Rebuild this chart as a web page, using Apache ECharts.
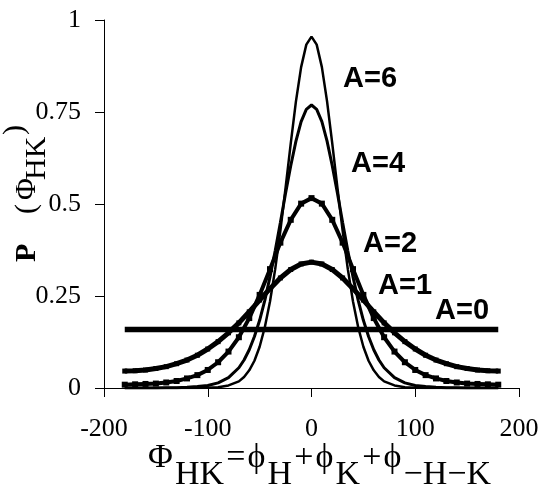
<!DOCTYPE html>
<html><head><meta charset="utf-8">
<script src="https://cdn.jsdelivr.net/npm/echarts@6/dist/echarts.min.js"></script>
<style>html,body{margin:0;padding:0;background:#fff}#c{width:556px;height:500px}</style>
</head><body><div id="c"></div>
<script>
// ---- data ----
const angles10 = [-180,-170,-160,-150,-140,-130,-120,-110,-100,-90,-80,-70,-60,-50,-40,-30,-20,-10,0,10,20,30,40,50,60,70,80,90,100,110,120,130,140,150,160,170,180];
const anglesFine = [-180,-170,-160,-150,-140,-130,-120,-110,-100,-90,-80,-70,-65,-60,-55,-50,-45,-40,-35,-30,-25,-20,-15,-10,-5,0,5,10,15,20,25,30,35,40,45,50,55,60,65,70,80,90,100,110,120,130,140,150,160,170,180];
const a0Angles = [-180, 180];
const a0Values = [0.159, 0.159];
const a1Values = [0.046,0.047,0.049,0.053,0.058,0.066,0.076,0.089,0.106,0.126,0.150,0.177,0.207,0.239,0.270,0.299,0.322,0.337,0.342,0.337,0.322,0.299,0.270,0.239,0.207,0.177,0.150,0.126,0.106,0.089,0.076,0.066,0.058,0.053,0.049,0.047,0.046];
const a2Values = [0.009,0.010,0.011,0.012,0.015,0.019,0.026,0.035,0.049,0.070,0.099,0.138,0.190,0.253,0.323,0.395,0.457,0.501,0.516,0.501,0.457,0.395,0.323,0.253,0.190,0.138,0.099,0.070,0.049,0.035,0.026,0.019,0.015,0.012,0.011,0.010,0.009];
const a4Values = [0.000,0.000,0.000,0.000,0.001,0.001,0.002,0.004,0.007,0.014,0.028,0.055,0.076,0.104,0.140,0.184,0.238,0.302,0.373,0.450,0.529,0.604,0.671,0.724,0.757,0.769,0.757,0.724,0.671,0.604,0.529,0.450,0.373,0.302,0.238,0.184,0.140,0.104,0.076,0.055,0.028,0.014,0.007,0.004,0.002,0.001,0.001,0.000,0.000,0.000,0.000];
const a6Values = [0.000,0.000,0.000,0.000,0.000,0.000,0.000,0.000,0.001,0.002,0.007,0.018,0.030,0.048,0.074,0.112,0.165,0.235,0.323,0.428,0.544,0.665,0.779,0.872,0.933,0.955,0.933,0.872,0.779,0.665,0.544,0.428,0.323,0.235,0.165,0.112,0.074,0.048,0.030,0.018,0.007,0.002,0.001,0.000,0.000,0.000,0.000,0.000,0.000,0.000,0.000];
const seriesNames = ['A=0','A=1','A=2','A=4','A=6'];
const xRange = [-200, 200, 100];
const yRange = [0, 1, 0.25];

function pairs(xs, ys){ return xs.map((x,i)=>[x, ys[i]]); }

const SERIF = '"Liberation Serif","Times New Roman",serif';
const SANS = '"Liberation Sans",Arial,sans-serif';
const ctx = document.createElement('canvas').getContext('2d');
function tw(text, size, weight){ ctx.font = (weight||'normal')+' '+size+'px '+SERIF; return ctx.measureText(text).width; }

const graphics = [];

// x-axis title with subscripts
const xPieces = [['\u03A6',0],['HK',1],['=',0],['\u03D5',0],['H',1],['+',0],['\u03D5',0],['K',1],['+',0],['\u03D5',0],['\u2212H\u2212K',1]];
const XF = 34, xStart = 148, xEnd = 491, mainBase = 475, subBase = 492;
let total = 0; xPieces.forEach(p=>total += tw(p[0], XF));
const gap = (xEnd - xStart - total) / (xPieces.length - 1);
let cx = xStart;
xPieces.forEach(p=>{
  graphics.push({type:'text', x:cx, y:(p[1]?subBase:mainBase), style:{text:p[0], font:XF+'px '+SERIF, fill:'#000', align:'left', verticalAlign:'bottom'}});
  cx += tw(p[0], XF) + gap;
});

// y-axis title (rotated)
const yPieces = [['P',42,262,'bold',30],['(',42,214,'normal',30],['\u03A6',42,200,'normal',30],['HK',52,180,'normal',30],[')',30,135,'normal',30]];
yPieces.forEach(p=>{
  graphics.push({type:'text', x:p[1], y:p[2], rotation:Math.PI/2, style:{text:p[0], font:p[3]+' '+p[4]+'px '+SERIF, fill:'#000', align:'left', verticalAlign:'bottom'}});
});

// curve labels
const labelPos = [[462,311],[405,286],[390,244],[378,164],[370,79]];
seriesNames.forEach((n,i)=>{
  graphics.push({type:'text', x:labelPos[i][0], y:labelPos[i][1], style:{text:n, font:'bold 29px '+SANS, fill:'#000', align:'center', verticalAlign:'middle'}});
});

const chart = echarts.init(document.getElementById('c'), null, {renderer:'canvas'});
const axisCommon = {
  axisLine:{show:true, onZero:false, lineStyle:{color:'#000', width:1}},
  axisTick:{show:true, length:9, lineStyle:{color:'#000', width:1}},
  splitLine:{show:false},
  axisLabel:{color:'#000', fontSize:26, fontFamily:SERIF}
};
function lineSeries(name, data, width, sym){
  return {name, type:'line', data, showSymbol:!!sym, symbol:'rect', symbolSize:sym||0,
    itemStyle:{color:'#000'}, lineStyle:{color:'#000', width}, silent:true, z:2};
}
chart.setOption({
  animation:false,
  backgroundColor:'#fff',
  grid:{left:104, right:37, top:20, bottom:112},
  xAxis:Object.assign({}, axisCommon, {type:'value', min:xRange[0], max:xRange[1], interval:xRange[2],
    axisLabel:Object.assign({}, axisCommon.axisLabel, {margin:28})}),
  yAxis:Object.assign({}, axisCommon, {type:'value', min:yRange[0], max:yRange[1], interval:yRange[2],
    axisLabel:Object.assign({}, axisCommon.axisLabel, {margin:23})}),
  series:[
    lineSeries(seriesNames[0], pairs(a0Angles, a0Values), 5.5, 0),
    lineSeries(seriesNames[1], pairs(angles10, a1Values), 5, 5),
    lineSeries(seriesNames[2], pairs(angles10, a2Values), 4, 6),
    lineSeries(seriesNames[3], pairs(anglesFine, a4Values), 3, 0),
    lineSeries(seriesNames[4], pairs(anglesFine, a6Values), 2.5, 0)
  ],
  graphic:graphics
});
</script></body></html>
